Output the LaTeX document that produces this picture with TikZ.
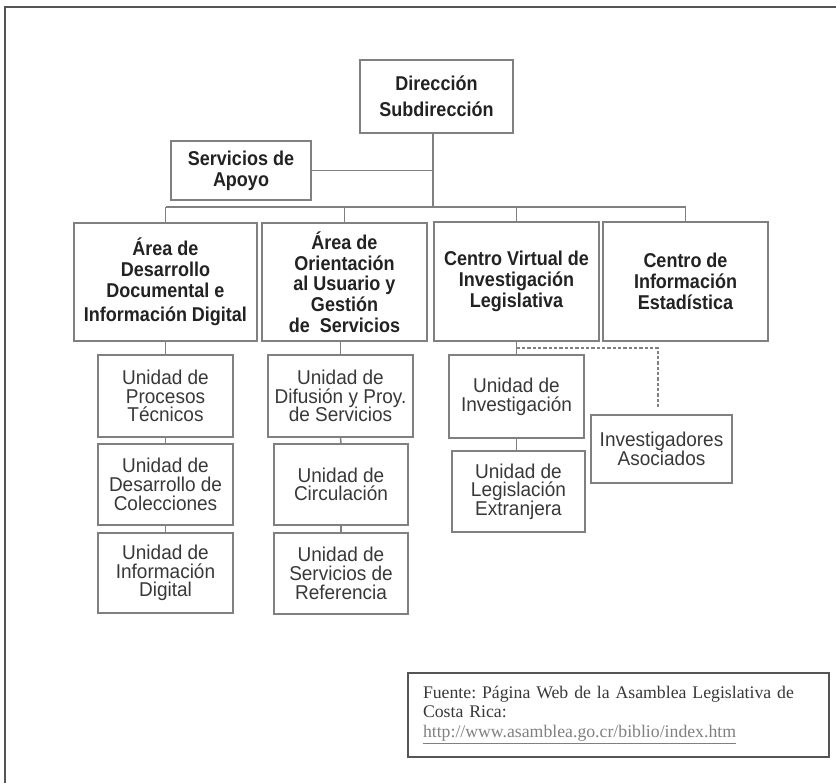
\documentclass[tikz,border=0pt]{standalone}
\usepackage{fontspec}
\setmainfont{Liberation Sans}[FakeStretch=0.9]
\newfontfamily\unfont{Liberation Sans}[FakeStretch=0.95]
\newfontfamily\srf{Liberation Serif}
\begin{document}
\frenchspacing
\begin{tikzpicture}[x=0.75pt,y=-0.75pt,
  box/.style={draw=boxgray,line width=1.1pt,rectangle,inner sep=2pt,align=center,text=txtgray},
  hd/.style={box,text=hdgray,font=\bfseries\fontsize{15}{15.5}\selectfont},
  un/.style={box,font=\unfont\fontsize{15}{14}\selectfont},
  conn/.style={draw=boxgray,line width=1.1pt},
  dconn/.style={draw=boxgray,line width=1.1pt,dash pattern=on 2.5pt off 1.5pt}]
\definecolor{boxgray}{HTML}{808080}
\definecolor{txtgray}{HTML}{383838}
\definecolor{hdgray}{HTML}{222222}
\definecolor{framegray}{HTML}{555555}
\useasboundingbox (0,0) rectangle (836,783);
% outer frame (top and left only)
\draw[framegray,line width=1.5pt] (5,783) -- (5,7) -- (836,7);
% top
\node[hd,font=\bfseries\fontsize{15}{19.5}\selectfont,minimum width=153*0.75pt,minimum height=73*0.75pt] (dir) at (436.5,96.5) {Dirección\\Subdirección};
\node[hd,minimum width=140*0.75pt,minimum height=59*0.75pt] (apoyo) at (241,170.5) {Servicios de\\Apoyo};
% areas
\node[hd,minimum width=183*0.75pt,minimum height=118*0.75pt] (a1) at (165.5,282) {Área de\\Desarrollo\\Documental e\\[3pt]Información Digital};
\node[hd,minimum width=165*0.75pt,minimum height=118*0.75pt] (a2) at (344.5,282) {Área de\\Orientación\\al Usuario y\\Gestión\\de\ \ Servicios};
\node[hd,minimum width=165*0.75pt,minimum height=119*0.75pt] (a3) at (516.5,281.5) {Centro Virtual de\\Investigación\\Legislativa};
\node[hd,minimum width=165*0.75pt,minimum height=119*0.75pt] (a4) at (685.5,281.5) {Centro de\\Información\\Estadística};
% column 1
\node[un,minimum width=135*0.75pt,minimum height=82*0.75pt] (p1) at (165.5,396) {Unidad de\\Procesos\\Técnicos};
\node[un,minimum width=135*0.75pt,minimum height=81*0.75pt] (p2) at (165.5,484.5) {Unidad de\\Desarrollo de\\Colecciones};
\node[un,minimum width=135*0.75pt,minimum height=80*0.75pt] (p3) at (165.5,573) {Unidad de\\Información\\Digital};
% column 2
\node[un,minimum width=145*0.75pt,minimum height=82*0.75pt] (q1) at (340.5,396) {Unidad de\\Difusión y Proy.\\de Servicios};
\node[un,minimum width=134*0.75pt,minimum height=81*0.75pt] (q2) at (341,484.5) {Unidad de\\Circulación};
\node[un,minimum width=134*0.75pt,minimum height=81*0.75pt] (q3) at (341,573.5) {Unidad de\\Servicios de\\Referencia};
% column 3
\node[un,minimum width=135*0.75pt,minimum height=83*0.75pt] (inv) at (516.5,396.5) {Unidad de\\Investigación};
\node[un,minimum width=133*0.75pt,minimum height=81*0.75pt] (leg) at (518.5,491.5) {Unidad de\\Legislación\\Extranjera};
\node[un,minimum width=141*0.75pt,minimum height=68*0.75pt] (asoc) at (661.5,449) {Investigadores\\Asociados};
% source box
\node[draw=framegray,line width=1.1pt,rectangle,minimum width=421*0.75pt,minimum height=84*0.75pt,
  text width=391*0.75pt,align=left,inner sep=0pt,text=txtgray,
  font=\srf\fontsize{13.3}{14.6}\selectfont] (src) at (618.5,715)
  {Fuente: Página Web de la Asamblea Legislativa de\\Costa Rica:\\{\color{gray}\underline{http://www.asamblea.go.cr/biblio/index.htm}}};
% connectors
\coordinate (trunk) at (433,207);
\coordinate (busL) at (a1.north |- trunk);
\coordinate (busR) at (a4.north |- trunk);
\draw[conn] (dir.south -| trunk) -- (trunk);
\draw[conn] (apoyo.east) -- (apoyo.east -| trunk);
\draw[conn] (busL) -- (busR);
\draw[conn] (busL) -- (a1.north);
\draw[conn] (a2.north |- trunk) -- (a2.north);
\draw[conn] (a3.north |- trunk) -- (a3.north);
\draw[conn] (busR) -- (a4.north);
\draw[conn] (a1.south) -- (p1.north);
\draw[conn] (p1.south) -- (p2.north);
\draw[conn] (p2.south) -- (p3.north);
\draw[conn] (a2.south -| q1.north) -- (q1.north);
\draw[conn] (q1.south) -- (q2.north);
\draw[conn] (q2.south) -- (q3.north);
\draw[conn] (a3.south) -- (inv.north);
\draw[conn] (inv.south) -- (inv.south |- leg.north);
\coordinate (dstart) at (516.5,348);
\coordinate (dend) at (658,408);
\draw[dconn] (dstart) -| (dend);
\end{tikzpicture}
\end{document}
